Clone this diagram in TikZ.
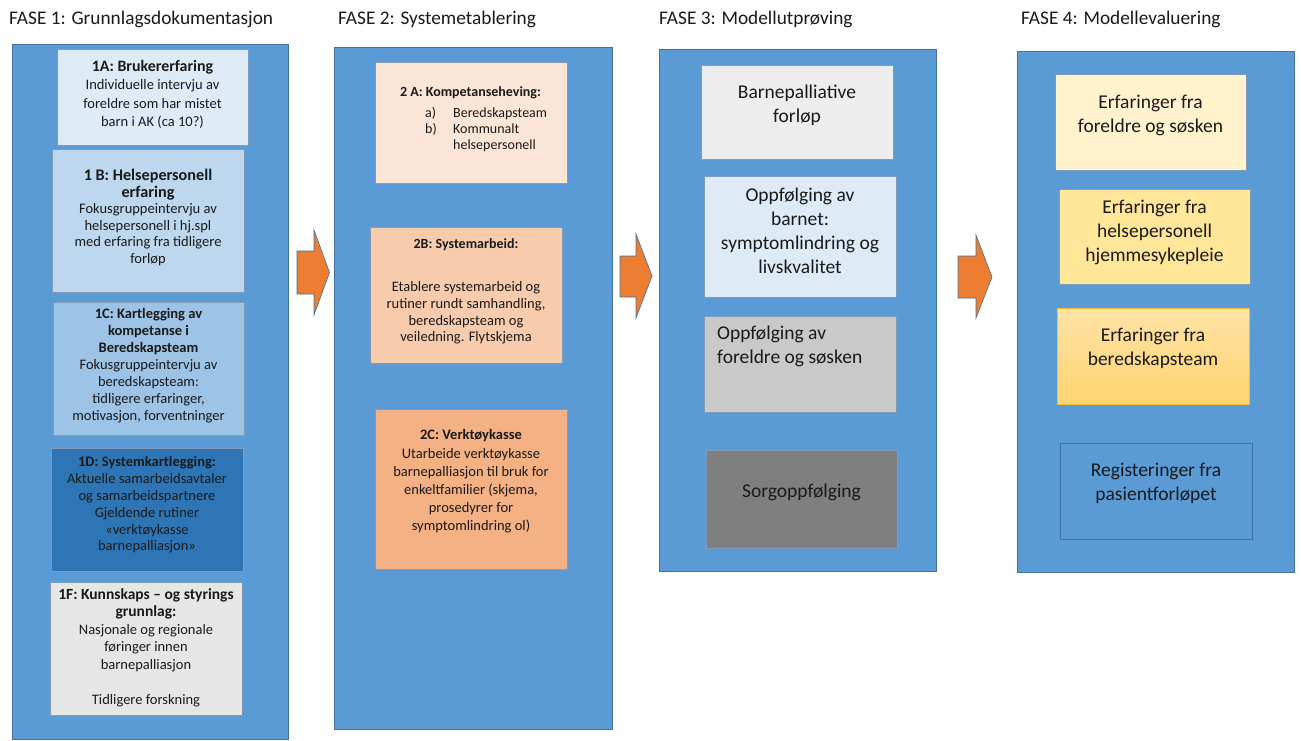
\documentclass[tikz,border=0pt]{standalone}
\usepackage{fontspec}
\setmainfont{Carlito}
\usetikzlibrary{fit}
\definecolor{colblue}{HTML}{5B9BD5}
\definecolor{colline}{HTML}{41719C}
\definecolor{boxline}{HTML}{7F9DBA}
\definecolor{txtc}{HTML}{1A1A1A}
\definecolor{arrorange}{HTML}{ED7D31}
\definecolor{cOneA}{HTML}{DEEBF7}
\definecolor{cOneB}{HTML}{BDD7EE}
\definecolor{cOneC}{HTML}{9DC3E6}
\definecolor{cOneD}{HTML}{2E75B6}
\definecolor{cOneF}{HTML}{E7E6E6}
\definecolor{cTwoA}{HTML}{FBE5D6}
\definecolor{cTwoB}{HTML}{F8CBAD}
\definecolor{cTwoC}{HTML}{F4B183}
\definecolor{cThrA}{HTML}{EDEDED}
\definecolor{cThrB}{HTML}{DEEBF7}
\definecolor{cThrC}{HTML}{C9C9C9}
\definecolor{cThrD}{HTML}{7F7F7F}
\definecolor{cFouA}{HTML}{FFF2CC}
\definecolor{cFouB}{HTML}{FFE699}
\definecolor{cFouCtop}{HTML}{FFE3A6}
\definecolor{cFouCbot}{HTML}{FFD470}
\definecolor{cFouCline}{HTML}{F2BE3C}
\newcommand\Hd[2]{{\bfseries\fontsize{#1}{18}\selectfont #2}}
\begin{document}
\begin{tikzpicture}[x=1pt,y=-1pt,
  colbox/.style={draw=colline, line width=0.75pt, fill=colblue, inner sep=0pt},
  inbox/.style={draw=boxline, line width=0.6pt, inner sep=0pt},
  txt/.style={align=center, inner sep=0pt, text=txtc},
  phase/.style={anchor=base west, inner sep=0pt, text=txtc, font=\fontsize{19.3}{23}\selectfont},
  bigtxt/.style={txt, font=\fontsize{19.5}{24}\selectfont},
  blockarr/.style={fill=arrorange, draw=colline, line width=0.6pt, line join=miter}]
\useasboundingbox (0,0) rectangle (1301,740);
\fill[white] (0,0) rectangle (1301,740);

% phase titles
\node[phase] (h1) at (9,24) {FASE 1: Grunnlagsdokumentasjon};
\node[phase] (h2) at (338,24) {FASE 2: Systemetablering};
\node[phase] (h3) at (659,24) {FASE 3: Modellutprøving};
\node[phase] (h4) at (1021,24) {FASE 4: Modellevaluering};

% columns
\node[colbox, fit={(12,44) (288,739.5)}] (c1) {};
\node[colbox, fit={(334,47) (612,729)}] (c2) {};
\node[colbox, fit={(659,49) (936,571)}] (c3) {};
\node[colbox, fit={(1017,51) (1294,572)}] (c4) {};

% block arrows
\draw[blockarr] (297,251) -- (314,251) -- (314,230) -- (329.5,272.5) -- (314,315) -- (314,294) -- (297,294) -- cycle;
\draw[blockarr] (620,256) -- (636,256) -- (636,234) -- (652,276) -- (636,318) -- (636,297) -- (620,297) -- cycle;
\draw[blockarr] (958,256) -- (976,256) -- (976,235) -- (992,277) -- (976,318) -- (976,298) -- (958,298) -- cycle;

% column 1
\node[inbox, fill=cOneA, fit={(57,49) (248,145)}] (b1a) {};
\node[inbox, fill=cOneB, fit={(52,149) (244,292)}] (b1b) {};
\node[inbox, fill=cOneC, fit={(53,302) (244,435)}] (b1c) {};
\node[inbox, fill=cOneD, fit={(51,448) (243,571)}] (b1d) {};
\node[inbox, fill=cOneF, fit={(50,582) (242,715)}] (b1f) {};

\node[txt, font=\fontsize{14.5}{18.3}\selectfont] (t1a) at (152.5,94.5)
  {\Hd{15.9}{1A: Brukererfaring}\\Individuelle intervju av\\foreldre som har mistet\\barn i AK (ca 10?)};
\node[txt, font=\fontsize{14.5}{16.6}\selectfont] (t1b) at (148,217.5)
  {\Hd{16.2}{1 B: Helsepersonell}\\\Hd{16.2}{erfaring}\\Fokusgruppeintervju av\\helsepersonell i hj.spl\\med erfaring fra tidligere\\forløp};
\node[txt, font=\fontsize{14.5}{17}\selectfont] (t1c) at (148.5,366)
  {\Hd{14.5}{1C: Kartlegging av}\\\Hd{14.5}{kompetanse i}\\\Hd{14.5}{Beredskapsteam}\\Fokusgruppeintervju av\\beredskapsteam:\\tidligere erfaringer,\\motivasjon, forventninger};
\node[txt, font=\fontsize{14.5}{16.8}\selectfont] (t1d) at (147,505)
  {\Hd{14.5}{1D: Systemkartlegging:}\\Aktuelle samarbeidsavtaler\\og samarbeidspartnere\\Gjeldende rutiner\\«verktøykasse\\barnepalliasjon»};
\node[txt, font=\fontsize{14.5}{17.5}\selectfont] (t1f) at (146,647.5)
  {\Hd{15.5}{1F: Kunnskaps – og styrings}\\\Hd{15.5}{grunnlag:}\\Nasjonale og regionale\\føringer innen\\barnepalliasjon\\[17.5pt]Tidligere forskning};

% column 2
\node[inbox, fill=cTwoA, fit={(375,62) (567,183)}] (b2a) {};
\node[inbox, fill=cTwoB, fit={(370,227) (562,363)}] (b2b) {};
\node[inbox, fill=cTwoC, fit={(375,409) (567,569)}] (b2c) {};

\node[txt] (t2ah) at (470.5,93) {\Hd{14}{2 A: Kompetanseheving:}};
\node[txt, anchor=west, align=left, font=\fontsize{14}{16}\selectfont] (t2al) at (425,130)
  {\begin{tabular}{@{}p{28pt}@{}l@{}}a) & Beredskapsteam\\ b) & Kommunalt\\ & helsepersonell\end{tabular}};
\node[txt] (t2bh) at (466,245) {\Hd{14}{2B: Systemarbeid:}};
\node[txt, font=\fontsize{14.5}{16.7}\selectfont] (t2bb) at (466,313)
  {Etablere systemarbeid og\\rutiner rundt samhandling,\\beredskapsteam og\\veiledning. Flytskjema};
\node[txt, font=\fontsize{14.5}{18.1}\selectfont] (t2c) at (471,481.3)
  {\Hd{14.5}{2C: Verktøykasse}\\Utarbeide verktøykasse\\barnepalliasjon til bruk for\\enkeltfamilier (skjema,\\prosedyrer for\\symptomlindring ol)};

% column 3
\node[inbox, fill=cThrA, fit={(701,65) (893,159)}] (b3a) {};
\node[inbox, fill=cThrB, fit={(704,176) (896,297)}] (b3b) {};
\node[inbox, fill=cThrC, fit={(704,316) (896,412)}] (b3c) {};
\node[inbox, fill=cThrD, fit={(706,450) (897,548)}] (b3d) {};

\node[bigtxt] (t3a) at (797,105.5) {Barnepalliative\\forløp};
\node[bigtxt] (t3b) at (800,230.7) {Oppfølging av\\barnet:\\symptomlindring og\\livskvalitet};
\node[bigtxt, anchor=west, align=left] (t3c) at (717,346.7) {Oppfølging av\\foreldre og søsken};
\node[bigtxt] (t3d) at (801.5,492.6) {Sorgoppfølging};

% column 4
\node[inbox, fill=cFouA, fit={(1055,74) (1246,170)}] (b4a) {};
\node[inbox, fill=cFouB, fit={(1059,189.5) (1250,284)}] (b4b) {};
\node[inbox, draw=cFouCline, top color=cFouCtop, bottom color=cFouCbot, fit={(1057,308) (1249,404)}] (b4c) {};
\node[inbox, draw=colline, fill=colblue, fit={(1060,443) (1252,539)}] (b4d) {};

\node[bigtxt] (t4a) at (1150.5,115.3) {Erfaringer fra\\foreldre og søsken};
\node[bigtxt] (t4b) at (1154.5,232.3) {Erfaringer fra\\helsepersonell\\hjemmesykepleie};
\node[bigtxt] (t4c) at (1153,348.8) {Erfaringer fra\\beredskapsteam};
\node[bigtxt] (t4d) at (1156,483.4) {Registeringer fra\\pasientforløpet};
\end{tikzpicture}
\end{document}
